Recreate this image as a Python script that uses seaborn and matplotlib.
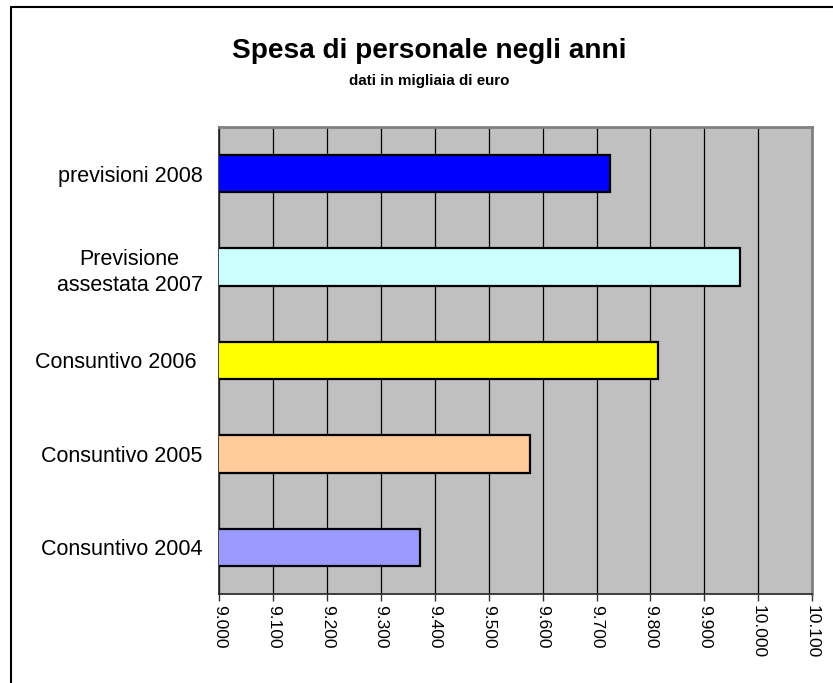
import matplotlib
matplotlib.use("Agg")
import matplotlib.pyplot as plt
from matplotlib.lines import Line2D
import seaborn as sns
import pandas as pd

categories = ["previsioni 2008", "Previsione\nassestata 2007", "Consuntivo 2006 ",
              "Consuntivo 2005", "Consuntivo 2004"]
values = [9725, 9966, 9815, 9576, 9372]
colors = ["#0000FF", "#CCFFFF", "#FFFF00", "#FFCC99", "#9999FF"]
x_ticks = [9000, 9100, 9200, 9300, 9400, 9500, 9600, 9700, 9800, 9900, 10000, 10100]
x_tick_labels = ["9.000", "9.100", "9.200", "9.300", "9.400", "9.500", "9.600",
                 "9.700", "9.800", "9.900", "10.000", "10.100"]
title = "Spesa di personale negli anni"
subtitle = "dati in migliaia di euro"

sns.set_theme(style="white")
plt.rcParams["font.family"] = ["Liberation Sans", "DejaVu Sans"]
plt.rcParams["text.color"] = "black"
plt.rcParams["xtick.color"] = "black"
plt.rcParams["ytick.color"] = "black"

df = pd.DataFrame({"cat": categories, "val": values})

fig = plt.figure(figsize=(8.33, 6.83), dpi=100)
fig.patch.set_facecolor("white")
ax = fig.add_axes([219.4 / 833, 1 - 594 / 683, (812 - 219.4) / 833, (594 - 127) / 683])
ax.set_facecolor("#C0C0C0")

sns.barplot(data=df, x="val", y="cat", hue="cat", palette=colors, legend=False,
            width=0.4, edgecolor="black", linewidth=1.6, saturation=1, ax=ax, zorder=3)

ax.set_xlim(9000, 10100)
ax.set_ylim(len(categories) - 0.5, -0.5)
ax.set_xticks(x_ticks)
ax.set_xticklabels(x_tick_labels, rotation=-90, fontsize=12.5, color="black")
ax.grid(axis="x", color="black", linewidth=0.9, zorder=1)
ax.grid(axis="y", visible=False)
ax.set_axisbelow(True)

# category boundary ticks (major) and labels at centers (minor)
n = len(categories)
ax.set_yticks([i - 0.5 for i in range(n + 1)])
ax.set_yticklabels([""] * (n + 1))
ax.set_yticks(list(range(n)), minor=True)
ax.set_yticklabels(categories, minor=True, fontsize=15.5, color="black")
for lbl in ax.get_yticklabels(minor=True):
    lbl.set_multialignment("center")
    lbl.set_linespacing(1.35)
ax.tick_params(axis="y", which="minor", length=0, pad=12)
ax.tick_params(axis="y", which="major", length=5, width=1, color="#333333", direction="out")
ax.tick_params(axis="x", which="major", length=5, width=1, color="#333333",
               direction="out", pad=3, bottom=True)
ax.set_xlabel("")
ax.set_ylabel("")

for side in ["left", "bottom"]:
    ax.spines[side].set_color("#222222")
    ax.spines[side].set_linewidth(1.2)
for side in ["top", "right"]:
    ax.spines[side].set_color("#808080")
    ax.spines[side].set_linewidth(2)

fig.text(429.5 / 833, 1 - 51 / 683, title, ha="center", va="center",
         fontsize=20.2, fontweight="bold", color="black")
fig.text(429.5 / 833, 1 - 81 / 683, subtitle, ha="center", va="center",
         fontsize=10.9, fontweight="bold", color="black")

# outer frame (top and left edges visible)
fig.add_artist(Line2D([11 / 833, 1.0], [1 - 7 / 683, 1 - 7 / 683],
                      transform=fig.transFigure, color="black", linewidth=1.5))
fig.add_artist(Line2D([11 / 833, 11 / 833], [0.0, 1 - 7 / 683],
                      transform=fig.transFigure, color="black", linewidth=1.5))

fig.savefig("out.png", dpi=100)
